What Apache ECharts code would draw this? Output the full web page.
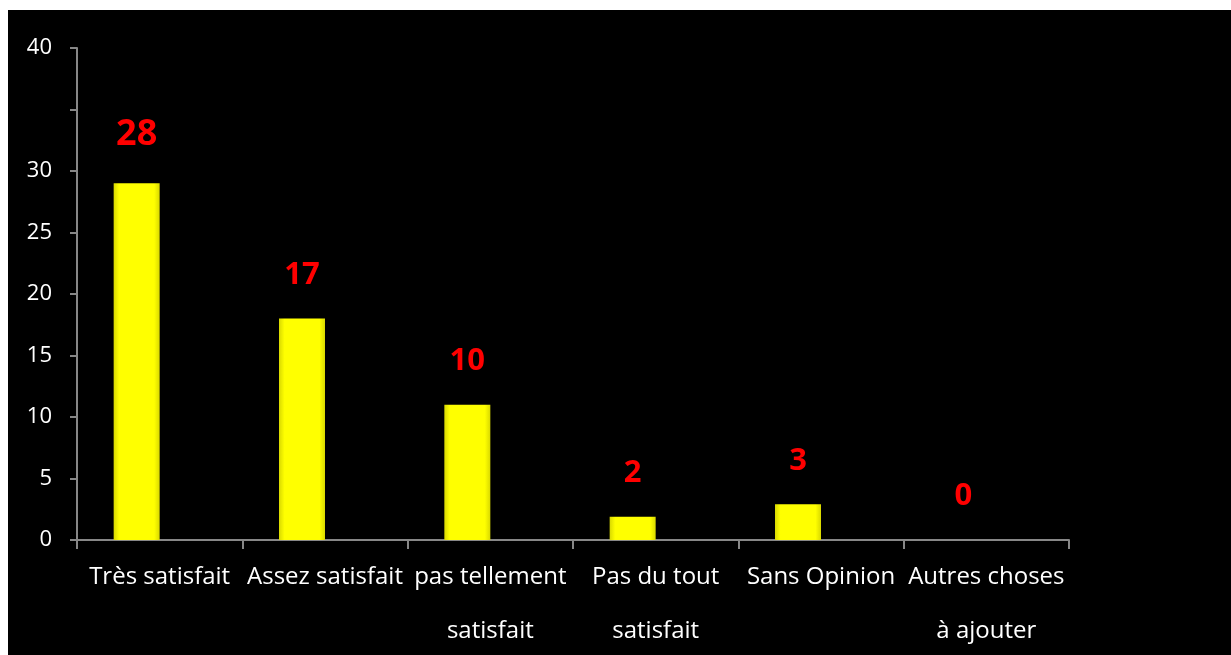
<!DOCTYPE html>
<html>
<head>
<meta charset="utf-8">
<script src="https://cdn.jsdelivr.net/npm/echarts@6/dist/echarts.min.js"></script>
<style>
  html, body { margin: 0; padding: 0; background: #fff; }
  #chart { position: absolute; left: 8px; top: 10px; width: 1223px; height: 645px; }
</style>
</head>
<body>
<div id="chart"></div>
<script>
// categories and values
const categories = ['Très satisfait', 'Assez satisfait', 'pas tellement\nsatisfait', 'Pas du tout\nsatisfait', 'Sans Opinion', 'Autres choses\nà ajouter']
const barValues = [29, 18, 11, 1.9, 2.9, 0]
const labelTexts = ['28', '17', '10', '2', '3', '0']
const yHidden = [35]

const chart = echarts.init(document.getElementById('chart'))

const barData = barValues.map((v, i) => {
  // first label is drawn bigger in the original
  if (i === 0) return { value: v, label: { fontSize: 36, distance: 31 } }
  return v
})

const option = {
  backgroundColor: '#000',
  animation: false,
  textStyle: { fontFamily: 'Open Sans' },
  grid: { left: 69, right: 162, top: 38, bottom: 115, outerBoundsMode: 'none' },
  xAxis: {
    type: 'category',
    data: categories,
    axisLine: { lineStyle: { color: '#878787', width: 2 } },
    axisTick: { show: true, length: 9, lineStyle: { color: '#878787', width: 2 } },
    axisLabel: {
      color: '#fff',
      fontSize: 24,
      lineHeight: 54,
      margin: 10,
      interval: 0
    }
  },
  yAxis: {
    type: 'value',
    min: 0,
    max: 40,
    interval: 5,
    splitLine: { show: false },
    axisLine: { show: true, lineStyle: { color: '#878787', width: 2 } },
    axisTick: { show: true, length: 7, lineStyle: { color: '#878787', width: 2 } },
    axisLabel: {
      color: '#fff',
      fontSize: 22,
      margin: 25,
      formatter: v => (yHidden.includes(v) ? '' : String(v))
    }
  },
  series: [
    {
      type: 'bar',
      data: barData,
      barWidth: 46,
      barGap: '0%',
      itemStyle: {
        color: new echarts.graphic.LinearGradient(0, 0, 1, 0, [
          { offset: 0, color: '#d9d900' },
          { offset: 0.12, color: '#ffff00' },
          { offset: 0.88, color: '#ffff00' },
          { offset: 1, color: '#d9d900' }
        ])
      },
      label: {
        show: true,
        position: 'top',
        distance: 28,
        color: '#ff0000',
        fontWeight: 'bold',
        fontSize: 31,
        fontFamily: 'Open Sans',
        formatter: p => labelTexts[p.dataIndex]
      }
    },
    {
      // empty series so the bars sit left of the category centre
      type: 'bar',
      data: categories.map(() => '-'),
      barWidth: 46
    }
  ]
}

chart.setOption(option)
window.addEventListener('resize', () => { chart.resize() })
</script>
</body>
</html>
